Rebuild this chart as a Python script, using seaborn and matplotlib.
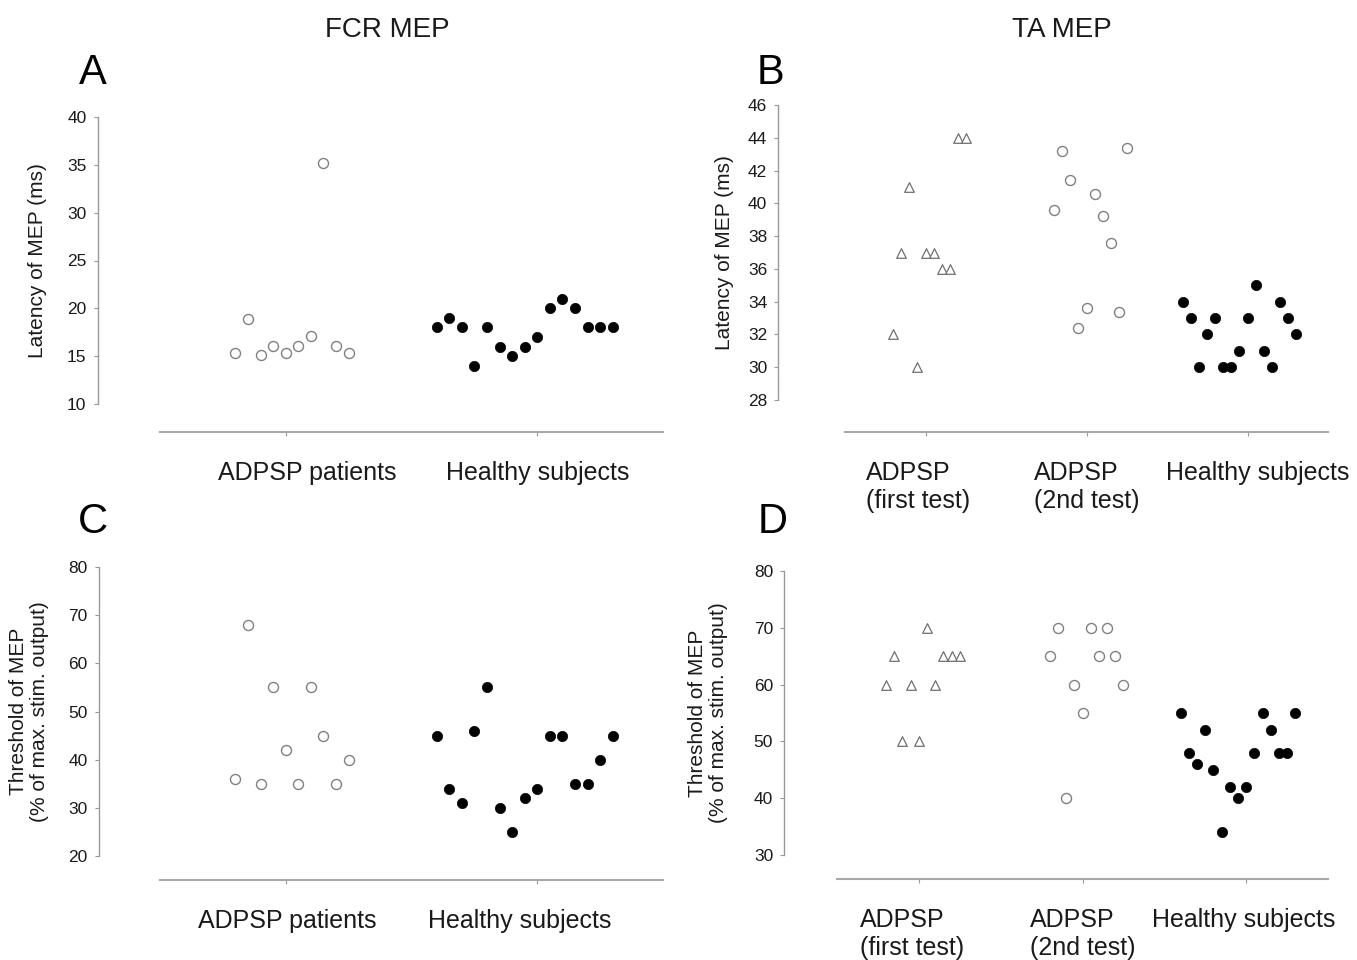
import numpy as np
import pandas as pd
import seaborn as sns
import matplotlib.pyplot as plt
from matplotlib.transforms import ScaledTranslation

sns.set_style('white')
plt.rcParams['font.family'] = ['Liberation Sans', 'DejaVu Sans']

# %% data
fcr_groups = ['ADPSP patients', 'Healthy subjects']
ta_groups = ['ADPSP\n(first test)', 'ADPSP\n(2nd test)', 'Healthy subjects']

fcr_lat_patients = [15.3, 18.9, 15.1, 16.1, 15.3, 16.1, 17.1, 35.2, 16.1, 15.3]
fcr_lat_healthy = [18, 19, 18, 14, 18, 16, 15, 16, 17, 20, 21, 20, 18, 18, 18]

ta_lat_first = [32, 37, 41, 30, 37, 37, 36, 36, 44, 44]
ta_lat_second = [39.6, 43.2, 41.4, 32.4, 33.6, 40.6, 39.2, 37.6, 33.4, 43.4]
ta_lat_healthy = [34, 33, 30, 32, 33, 30, 30, 31, 33, 35, 31, 30, 34, 33, 32]

fcr_thr_patients = [36, 68, 35, 55, 42, 35, 55, 45, 35, 40]
fcr_thr_healthy = [45, 34, 31, 46, 55, 30, 25, 32, 34, 45, 45, 35, 35, 40, 45]

ta_thr_first = [60, 65, 50, 60, 50, 70, 60, 65, 65, 65]
ta_thr_second = [65, 70, 40, 60, 55, 70, 65, 70, 65, 60]
ta_thr_healthy = [55, 48, 46, 52, 45, 34, 42, 40, 42, 48, 55, 52, 48, 48, 55]

# marker style per kind of group
OPEN_CIRCLE = dict(marker='o', color='white', edgecolor='#808080', linewidth=1.0, s=52)
OPEN_TRI = dict(marker='^', color='white', edgecolor='#707070', linewidth=0.9, s=48)
FILLED = dict(marker='o', color='black', edgecolor='black', linewidth=0.5, s=55)

W, H = 1357, 960
fig = plt.figure(figsize=(W / 100, H / 100), dpi=100)


def add_ax(left, right, top, bottom):
    return fig.add_axes([left / W, 1 - bottom / H, (right - left) / W, (bottom - top) / H])


def make_df(groups, series):
    # points of a group sit side by side in reading order, 0.05 apart
    rows = []
    for k, (g, vals) in enumerate(zip(groups, series)):
        n = len(vals)
        nudge = 0.025 if n % 2 == 0 else -0.05
        for i, v in enumerate(vals):
            rows.append({'group': g, 'pos': k, 'x': k + 0.05 * (i - (n - 1) / 2) + nudge, 'value': v})
    return pd.DataFrame(rows)


def panel(ax, groups, series, styles, ylim, yticks, ylabel, left_out, bottom_out, label_x, shifts):
    df = make_df(groups, series)
    for g, st in zip(groups, styles):
        sub = df[df['group'] == g]
        sns.scatterplot(data=sub, x='x', y='value', ax=ax, legend=False, zorder=3, **st)
    ax.set_xlim(-0.5, len(groups) - 0.5)
    ax.set_ylim(*ylim)
    for sp in ['top', 'right']:
        ax.spines[sp].set_visible(False)
    ax.spines['left'].set_position(('outward', left_out))
    ax.spines['bottom'].set_position(('outward', bottom_out))
    ax.spines['left'].set_color('#999999')
    ax.spines['bottom'].set_color('#a8a8a8')
    ax.spines['left'].set_linewidth(1.0)
    ax.spines['bottom'].set_linewidth(1.5)
    ax.tick_params(axis='y', direction='out', length=3, width=0.8, color='#999999', pad=5,
                   left=True, labelsize=12.5, labelcolor='#1a1a1a')
    ax.tick_params(axis='x', direction='out', length=3, width=0.8, color='#999999', pad=18,
                   bottom=True, labelsize=18, labelcolor='#1a1a1a')
    ax.set_xticks(range(len(groups)))
    ax.set_xticklabels(groups, ha='center', va='top', multialignment='left', linespacing=1.2)
    ax.set_yticks(yticks)
    ax.set_yticklabels([str(t) for t in yticks])
    for lab, dx in zip(ax.get_xticklabels(), shifts):
        lab.set_transform(lab.get_transform() + ScaledTranslation(dx / 100, 0, fig.dpi_scale_trans))
    ax.set_xlabel('')
    ax.set_ylabel(ylabel, fontsize=15, color='#1a1a1a', va='center', linespacing=1.15)
    ax.yaxis.set_label_coords(label_x, 0.5)
    ax.set_facecolor('white')


axA = add_ax(160, 663, 117, 404)
panel(axA, fcr_groups, [fcr_lat_patients, fcr_lat_healthy], [OPEN_CIRCLE, FILLED],
      (10, 40), [10, 15, 20, 25, 30, 35, 40], 'Latency of MEP (ms)', 45, 20,
      (38 - 160) / 503, [22, 0])

axB = add_ax(845, 1328, 105, 400)
panel(axB, ta_groups, [ta_lat_first, ta_lat_second, ta_lat_healthy], [OPEN_TRI, OPEN_CIRCLE, FILLED],
      (28, 46), list(range(28, 47, 2)), 'Latency of MEP (ms)', 48, 23,
      (725 - 845) / 483, [-7, 0, 10])

axC = add_ax(160, 663, 567, 856)
panel(axC, fcr_groups, [fcr_thr_patients, fcr_thr_healthy], [OPEN_CIRCLE, FILLED],
      (20, 80), list(range(20, 81, 10)), 'Threshold of MEP\n(% of max. stim. output)', 44, 17,
      (29 - 160) / 503, [2, -18])

axD = add_ax(837, 1328, 571, 855)
panel(axD, ta_groups, [ta_thr_first, ta_thr_second, ta_thr_healthy], [OPEN_TRI, OPEN_CIRCLE, FILLED],
      (30, 80), list(range(30, 81, 10)), 'Threshold of MEP\n(% of max. stim. output)', 38, 17,
      (708 - 837) / 491, [-7, 0, -2])

# column titles and panel letters
fig.text(387 / W, 1 - 30 / H, 'FCR MEP', fontsize=20, ha='center', va='center', color='#1a1a1a')
fig.text(1062 / W, 1 - 30 / H, 'TA MEP', fontsize=20, ha='center', va='center', color='#1a1a1a')
for letter, (px, py) in {'A': (93, 73), 'B': (770, 73), 'C': (93, 522), 'D': (773, 522)}.items():
    fig.text(px / W, 1 - py / H, letter, fontsize=30, ha='center', va='center', color='black')

fig.savefig('out.png', dpi=100, facecolor='white')
